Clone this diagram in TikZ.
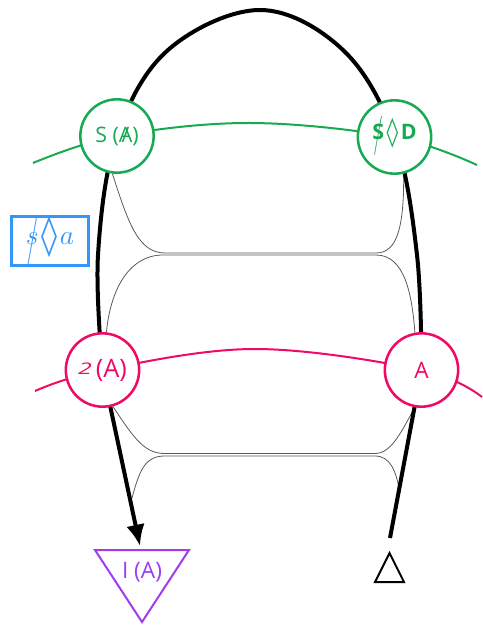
\documentclass[tikz,border=0pt]{standalone}
\usepackage{fontspec}
\usepackage{amssymb}
\setmainfont{Open Sans}
\newfontfamily\dvs{DejaVu Sans}
\usetikzlibrary{arrows.meta}
\definecolor{gr}{RGB}{22,170,82}
\definecolor{pk}{RGB}{240,10,100}
\definecolor{bl}{RGB}{50,150,250}
\definecolor{pu}{RGB}{160,60,240}
\newcommand\strk[1]{\ooalign{#1\cr\hidewidth/\hidewidth\cr}}
\newcommand\longstrk[1]{\ooalign{\hfil#1\hfil\cr\hidewidth\raisebox{-0.3em}{\scalebox{0.9}[1.7]{$/$}}\hidewidth\cr}}
\newcommand\tallloz{\raisebox{-0.12em}{\scalebox{1.1}[1.35]{\dvs\bfseries ◊}}}
\pgfdeclarelayer{bg}
\pgfsetlayers{bg,main}
\begin{document}
\begin{tikzpicture}[x=0.75pt,y=-0.75pt,
  ring/.style={circle,fill=white,line width=1.9pt,minimum size=55pt,inner sep=0pt},
  gring/.style={ring,draw=gr,text=gr,font=\fontsize{16}{19}\selectfont},
  pring/.style={ring,draw=pk,text=pk,font=\fontsize{17}{20}\selectfont},
  band/.style={line width=1.5pt},
  strand/.style={line width=3pt,black},
  thread/.style={line width=0.6pt,black!65}]
\useasboundingbox (0,0) rectangle (482,627);

% wire crossings
\node[gring] (sa) at (117,136) {S (\strk{A})};
\node[gring] (sd) at (394.5,137) {\textbf{\longstrk{S}}\kern2pt\tallloz\kern2pt\textbf{D}};
\node[pring] (pl) at (102.5,370) {\raisebox{0.1em}{\scalebox{1.25}[0.8]{\fontsize{15}{17}\selectfont\textit{2}}}\,{\fontsize{19}{22}\selectfont(A)}};
\node[pring] (pr) at (421.5,370) {A};

% side label
\node[draw=bl,text=bl,line width=1.9pt,minimum width=58pt,minimum height=37pt,inner sep=0pt]
  (side) at (50,241) {\fontsize{22}{25}\selectfont$\longstrk{$s$}\kern2pt\mbox{\tallloz}\kern2pt a$};

% output triangle
\coordinate (ta) at (95,550);
\coordinate (tb) at (189,550);
\coordinate (tc) at (142,622);
\draw[pu,line width=1.5pt] (ta) -- (tb) -- (tc) -- cycle;
\node[text=pu,font=\fontsize{17}{20}\selectfont] (ia) at (142,572) {I (A)};
\coordinate (tip) at (140,546);

% small open triangle
\coordinate (ua) at (375,582);
\coordinate (ub) at (404,582);
\coordinate (uc) at (389.5,553);
\draw[black,line width=1.5pt] (ua) -- (ub) -- (uc) -- cycle;
\coordinate (rend) at (390,538);

% junction points on the strand
\coordinate (jl) at (132,498);
\coordinate (jr) at (400,493);

\begin{pgfonlayer}{bg}
  \draw[band,gr] plot[smooth,tension=0.6] coordinates {(33,163) (sa.center) (250,123) (sd.center) (477,165)};
  \draw[band,pk] plot[smooth,tension=0.6] coordinates {(35,391) (pl.center) (255,349) (pr.center) (482,397)};

  \draw[thread] (sa.-97) .. controls (128,222) and (138,253) .. (165,253) -- (376,253) .. controls (398,253) and (404,225) .. (sd.-76);
  \draw[thread] (pl.84) .. controls (110,292) and (128,255) .. (163,255) -- (376,255) .. controls (405,255) and (412,295) .. (pr.100);
  \draw[thread] (pl.-74) .. controls (135,440) and (145,453.5) .. (165,453.5) -- (375,453.5) .. controls (392,453.5) and (402,430) .. (pr.-100);
  \draw[thread] (jl) .. controls (140,468) and (146,456) .. (165,456) -- (375,456) .. controls (390,456) and (396,470) .. (jr);

  \draw[strand] (rend) -- (pr.center);
  \draw[strand] plot[smooth,tension=0.6] coordinates {(pr.center) (417,255) (sd.center) (343,50) (260,10) (168,50) (sa.center) (98,255) (pl.center)};
  \draw[strand,-{Latex[length=16pt,width=14pt]}] (pl.center) -- (tip);
\end{pgfonlayer}
\end{tikzpicture}
\end{document}
